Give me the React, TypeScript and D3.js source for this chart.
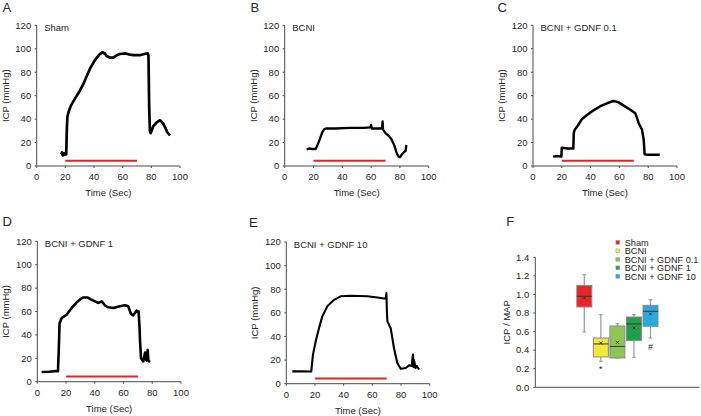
import React from "react";
import * as d3 from "d3";

// ---------- data ----------
const xTicks = [0, 20, 40, 60, 80, 100];
const yTicks = [0, 20, 40, 60, 80, 100, 120];
const stimStart = 20;
const stimEnd = 70;
const stimLevel = 4.5;

const shamTrace: [number, number][] = [
  [17, 10], [17.6, 11.5], [18.2, 9], [18.8, 11], [19.4, 9.5], [20, 10.5], [20.6, 10], [21, 30], [21.4, 42],
  [22.5, 47], [23.7, 51], [26, 56], [28, 60], [30, 64], [32.6, 70], [35, 77], [37.2, 83], [40, 89],
  [42, 92.5], [44, 95.5], [46, 97], [47.5, 96], [49, 93.5], [51, 92.5], [53.5, 92.5], [56, 94.5],
  [58, 95.5], [62, 96], [65, 95], [67.5, 94.5], [72, 94.5], [75, 95.5], [77.5, 96], [78, 94],
  [78.5, 50], [79, 30], [79.5, 28], [81.4, 34], [84, 37.5], [86, 39], [87, 38], [88.4, 36],
  [90, 32], [91, 29], [93, 26],
];
const bcniTrace: [number, number][] = [
  [15.3, 14], [17, 15], [19, 14.5], [21.5, 14.5], [22.5, 17], [23.8, 21], [25, 25], [26.2, 29],
  [27.5, 31.5], [29, 32], [35, 32], [45, 32.5], [55, 32.5], [59.5, 33], [60, 35], [60.5, 32],
  [65, 32], [67.5, 32], [68, 38], [68.3, 31], [70, 28], [72, 26], [74, 23], [76, 18], [77.5, 12],
  [79, 8], [80, 7.5], [81.5, 10], [83, 12], [84, 13], [84.5, 18],
];
const gdnf01Trace: [number, number][] = [
  [14, 8], [17, 8.5], [19.7, 8], [20, 15.5], [24, 15], [28, 15], [28.3, 28], [29, 31], [30.6, 33.5],
  [34, 40], [37.5, 43.5], [42, 47.5], [46.8, 51], [51.4, 53.5], [56, 55.5], [59.5, 54.3], [63, 51.5],
  [67.6, 48], [71, 45], [72.5, 40], [73.4, 36.5], [75.7, 31], [76.9, 22], [77.5, 10], [80, 9.5],
  [85, 9.5], [88, 9.5],
];
const gdnf1Trace: [number, number][] = [
  [3, 8.3], [8, 8.5], [12, 9], [14.4, 9], [15, 30], [15.5, 50], [17, 54.4], [20.4, 57.3], [23.9, 63],
  [27.4, 67.8], [30, 70.5], [32, 72], [34.8, 72], [37, 70.5], [39, 69.3], [42.5, 67.3], [44.8, 68.7],
  [47, 65.3], [49.4, 63.6], [52.9, 63], [57.5, 64.4], [61, 65.3], [63.3, 64.4], [65.2, 58], [66.8, 56.7],
  [69.1, 60.7], [70.5, 60], [71.2, 45], [71.5, 34.5], [72.2, 20], [73.8, 17.4], [75, 25], [76, 18],
  [76.8, 27], [77.3, 18], [78.4, 16.8],
];
const gdnf10Trace: [number, number][] = [
  [4.2, 10.4], [10, 10.5], [17.4, 10.3], [18.6, 24.6], [20.5, 35.9], [22.8, 47], [25.1, 57],
  [28.6, 65.5], [33.3, 71], [37.9, 74], [44.9, 74.5], [56.5, 74], [63.5, 73], [69.3, 72], [69.8, 76.8],
  [70.2, 60], [70.5, 52.8], [72.8, 47], [75.1, 30], [77.4, 17.5], [79.8, 12.7], [83.3, 13.3],
  [85.6, 15.5], [87.5, 15], [88, 22], [88.4, 24.6], [88.8, 14], [89, 20], [90.2, 13.3], [91, 15],
  [92.6, 12],
];

// box plot (panel F)
const groups = ["Sham", "BCNI", "BCNI + GDNF 0.1", "BCNI + GDNF 1", "BCNI + GDNF 10"];
const whiskerLow = [0.596, 0.28, 0.316, 0.323, 0.531];
const q1 = [0.865, 0.327, 0.316, 0.503, 0.657];
const median = [0.98, 0.467, 0.44, 0.682, 0.818];
const q3 = [1.098, 0.531, 0.66, 0.757, 0.883];
const whiskerHigh = [1.213, 0.783, 0.686, 0.783, 0.944];
const mean = [0.962, 0.477, 0.485, 0.639, 0.79];
const marks = ["", "*", "", "", "#"];
const markLevel = [0, 0.2, 0, 0, 0.435];
const boxColors = ["#e8262a", "#f2ea3a", "#8fc552", "#21a04c", "#29a9e0"];
const fTicks = [0, 0.2, 0.4, 0.6, 0.8, 1.0, 1.2, 1.4];

// ---------- layout ----------
const FONT = "'Liberation Sans', Arial, Helvetica, sans-serif";
const TXT = "#262626";
const AX = "#4a4a4a";

type PanelCfg = {
  letter: string; title: string; trace: [number, number][];
  left: number; right: number; top: number; bottom: number;
  letterX: number; letterY: number; sw: number;
};

const panels: PanelCfg[] = [
  { letter: "A", title: "Sham", trace: shamTrace, left: 36.7, right: 180, top: 25.3, bottom: 166, letterX: 2.5, letterY: 12.3, sw: 2.7 },
  { letter: "B", title: "BCNI", trace: bcniTrace, left: 284.7, right: 428.7, top: 25.3, bottom: 166, letterX: 250.5, letterY: 12.3, sw: 2.3 },
  { letter: "C", title: "BCNI + GDNF 0.1", trace: gdnf01Trace, left: 533, right: 677, top: 25.3, bottom: 166, letterX: 497.5, letterY: 12.3, sw: 2.5 },
  { letter: "D", title: "BCNI + GDNF 1", trace: gdnf1Trace, left: 37.3, right: 181, top: 241.3, bottom: 381.7, letterX: 2.5, letterY: 226.3, sw: 2.6 },
  { letter: "E", title: "BCNI + GDNF 10", trace: gdnf10Trace, left: 286.3, right: 429.7, top: 242, bottom: 383.7, letterX: 249, letterY: 227.2, sw: 2.1 },
];

function TracePanel({ p }: { p: PanelCfg }) {
  const x = d3.scaleLinear().domain([0, 100]).range([p.left, p.right]);
  const y = d3.scaleLinear().domain([0, 120]).range([p.bottom, p.top]);
  const line = d3.line<[number, number]>().x((d) => x(d[0])).y((d) => y(d[1])).curve(d3.curveLinear);
  const ylabX = p.left - 31.5;
  const ylabY = (p.top + p.bottom) / 2;
  return (
    <g>
      <text x={p.letterX} y={p.letterY} fontSize={13} fill={TXT} fontFamily={FONT}>{p.letter}</text>
      {/* axes */}
      <line x1={x(0)} x2={x(0)} y1={y(0)} y2={y(120)} stroke={AX} strokeWidth={1} />
      <line x1={x(0)} x2={x(100)} y1={y(0)} y2={y(0)} stroke={AX} strokeWidth={1} />
      {yTicks.map((t) => (
        <g key={"y" + t}>
          <line x1={x(0) - 2} x2={x(0)} y1={y(t)} y2={y(t)} stroke={AX} />
          <text x={x(0) - 5.5} y={y(t) + 3.3} fontSize={9.5} textAnchor="end" fill={TXT} fontFamily={FONT}>{t}</text>
        </g>
      ))}
      {xTicks.map((t) => (
        <g key={"x" + t}>
          <line x1={x(t)} x2={x(t)} y1={y(0)} y2={y(0) + 2} stroke={AX} />
          <text x={x(t)} y={p.bottom + 14} fontSize={9.5} textAnchor="middle" fill={TXT} fontFamily={FONT}>{t}</text>
        </g>
      ))}
      <text x={(p.left + p.right) / 2} y={p.bottom + 30} fontSize={9.5} textAnchor="middle" fill={TXT} fontFamily={FONT}>Time (Sec)</text>
      <text transform={`translate(${ylabX + 3.4},${ylabY}) rotate(-90)`} fontSize={9.5} textAnchor="middle" fill={TXT} fontFamily={FONT}>ICP (mmHg)</text>
      <text x={p.left + 7.5} y={p.top + 6} fontSize={9.5} fill={TXT} fontFamily={FONT}>{p.title}</text>
      {/* stimulation bar */}
      <line x1={x(stimStart)} x2={x(stimEnd)} y1={y(stimLevel)} y2={y(stimLevel)} stroke="#e8231f" strokeWidth={2} />
      {/* trace */}
      <path d={line(p.trace) || ""} fill="none" stroke="#000" strokeWidth={p.sw} strokeLinejoin="round" />
    </g>
  );
}

function BoxPanel() {
  const left = 535.3, right = 699.5, top = 257.3, bottom = 387.3;
  const y = d3.scaleLinear().domain([0, 1.4]).range([bottom, top]);
  const x = d3.scalePoint<string>().domain(groups).range([584.3, 650.5]);
  const bw = 15;
  return (
    <g>
      <text x={506.3} y={226.4} fontSize={13} fill={TXT} fontFamily={FONT}>F</text>
      <line x1={left} x2={left} y1={bottom} y2={top} stroke={AX} />
      <line x1={left} x2={right} y1={bottom} y2={bottom} stroke={AX} />
      {fTicks.map((t) => (
        <g key={"f" + t}>
          <line x1={left - 2} x2={left} y1={y(t)} y2={y(t)} stroke={AX} />
          <text x={left - 6} y={y(t) + 3.3} fontSize={9.5} textAnchor="end" fill={TXT} fontFamily={FONT}>{t.toFixed(1)}</text>
        </g>
      ))}
      <text transform={`translate(${506.3 + 3.4},${(top + bottom) / 2}) rotate(-90)`} fontSize={9.5} textAnchor="middle" fill={TXT} fontFamily={FONT}>ICP / MAP</text>
      {groups.map((g, i) => {
        const cx = x(g) as number;
        return (
          <g key={g}>
            <line x1={cx} x2={cx} y1={y(whiskerHigh[i])} y2={y(q3[i])} stroke="#a0a0a0" strokeWidth={1.3} />
            <line x1={cx} x2={cx} y1={y(q1[i])} y2={y(whiskerLow[i])} stroke="#a0a0a0" strokeWidth={1.3} />
            <line x1={cx - 1.8} x2={cx + 1.8} y1={y(whiskerHigh[i])} y2={y(whiskerHigh[i])} stroke="#a0a0a0" strokeWidth={1.2} />
            <line x1={cx - 1.8} x2={cx + 1.8} y1={y(whiskerLow[i])} y2={y(whiskerLow[i])} stroke="#a0a0a0" strokeWidth={1.2} />
            <rect x={cx - bw / 2} y={y(q3[i])} width={bw} height={y(q1[i]) - y(q3[i])} fill={boxColors[i]} stroke="#8a8a8a" strokeWidth={1} />
            <line x1={cx - bw / 2} x2={cx + bw / 2} y1={y(median[i])} y2={y(median[i])} stroke="#3a3a3a" strokeWidth={1} />
            <path d={`M${cx - 1.5},${y(mean[i]) - 1.5}L${cx + 1.5},${y(mean[i]) + 1.5}M${cx - 1.5},${y(mean[i]) + 1.5}L${cx + 1.5},${y(mean[i]) - 1.5}`} stroke="#333" strokeWidth={0.9} />
            {marks[i] && (
              <text x={cx} y={y(markLevel[i]) + 3} fontSize={9} textAnchor="middle" fill={TXT} fontFamily={FONT}>{marks[i]}</text>
            )}
          </g>
        );
      })}
      {/* legend */}
      {groups.map((g, i) => {
        const ly = 242.3 + i * 8.5;
        return (
          <g key={"lg" + g}>
            <rect x={615.9} y={ly - 1.9} width={3.8} height={3.8} fill={boxColors[i]} stroke="#999" strokeWidth={0.5} />
            <text x={624.7} y={ly + 3.2} fontSize={9.2} fill={TXT} fontFamily={FONT}>{g}</text>
          </g>
        );
      })}
    </g>
  );
}

export default function App() {
  return (
    <svg width={701} height={416} style={{ position: "absolute", left: 0, top: 0, background: "#fff" }}>
      <rect x={0} y={0} width={701} height={416} fill="#fff" />
      {panels.map((p) => (
        <TracePanel key={p.letter} p={p} />
      ))}
      <BoxPanel />
    </svg>
  );
}
